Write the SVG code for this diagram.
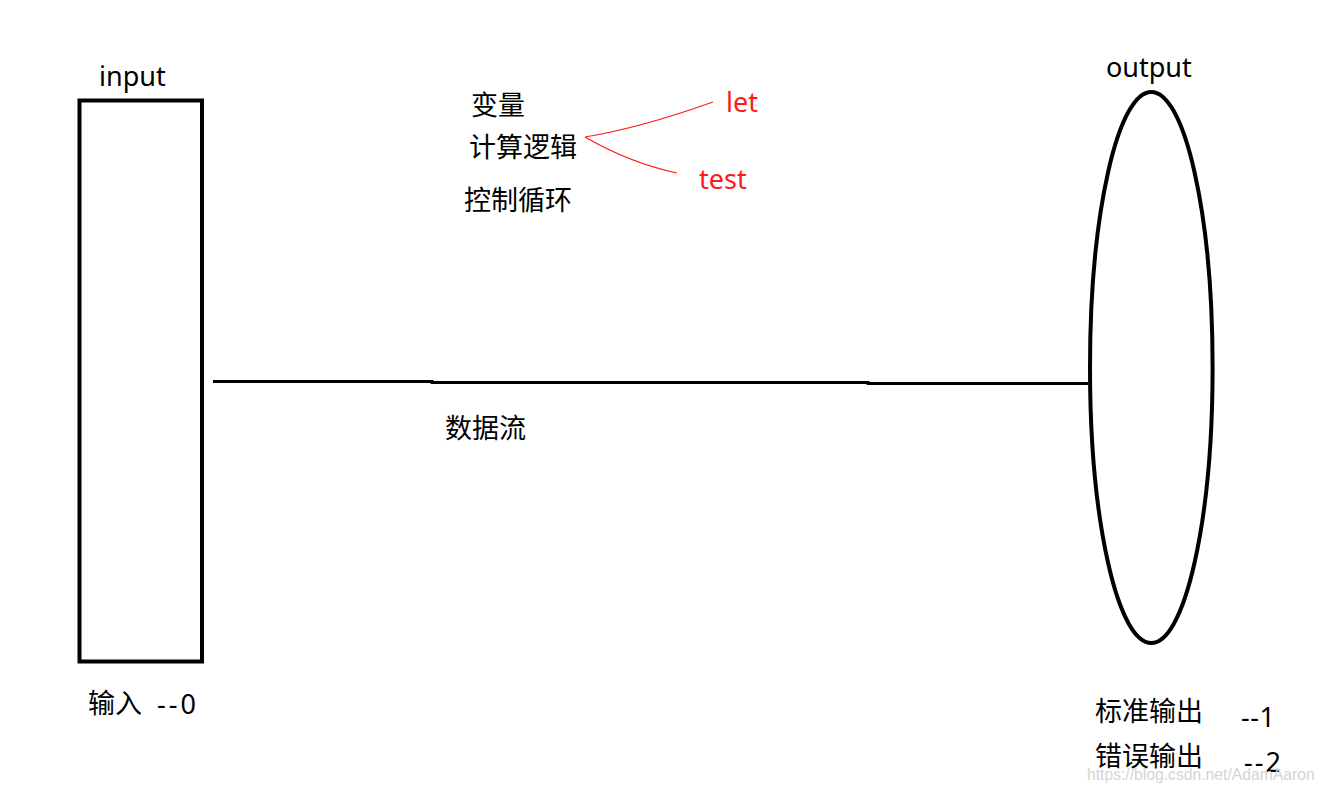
<svg xmlns="http://www.w3.org/2000/svg" width="1325" height="797" viewBox="0 0 1325 797">
  <style>
    .lat { font-family: "Noto Sans", "Open Sans", sans-serif; font-size: 27px; fill: #000; }
    .cjk { font-family: "Noto Sans", "Noto Sans CJK SC", sans-serif; font-size: 27px; fill: #000; }
    .red { fill: #ff1a1a; }
    .shape { fill: none; stroke: #000; stroke-width: 4; }
    .flow { fill: none; stroke: #000; stroke-width: 3; }
    .branch { fill: none; stroke: #ff1a1a; stroke-width: 1.2; }
    .wm { font-family: "Liberation Sans", Arial, sans-serif; font-size: 15.7px; fill: #d4d4d4; }
  </style>
  <rect x="0" y="0" width="1325" height="797" fill="#fff"/>

  <g id="connectors">
    <polyline class="flow" points="213,381.5 432,381.5 432,382.5 868,382.5 868,383.5 1088,383.5"/>
    <path class="branch" d="M585,137 Q640,128 713,102"/>
    <path class="branch" d="M585,137 Q630,163 677,173"/>
  </g>

  <g id="input">
    <rect class="shape" x="79.5" y="100.5" width="122.5" height="561"/>
    <text class="lat" x="99" y="86">input</text>
    <text class="cjk" x="88" y="713">输入</text>
    <text class="lat" x="157" y="714" textLength="39" lengthAdjust="spacing">--0</text>
  </g>

  <g id="output">
    <ellipse class="shape" cx="1151.3" cy="367.5" rx="61.3" ry="275.5"/>
    <text class="lat" x="1106" y="77">output</text>
    <text class="cjk" x="1095" y="721">标准输出</text>
    <text class="lat" x="1241" y="727" textLength="34" lengthAdjust="spacing">--1</text>
    <text class="cjk" x="1095" y="765.5">错误输出</text>
    <text class="lat" x="1244" y="772" textLength="37" lengthAdjust="spacing">--2</text>
  </g>

  <g id="program">
    <text class="cjk" x="471" y="115">变量</text>
    <text class="cjk" x="469" y="157">计算逻辑</text>
    <text class="cjk" x="464" y="210">控制循环</text>
  </g>

  <g id="let">
    <text class="lat red" x="726" y="112">let</text>
  </g>
  <g id="test">
    <text class="lat red" x="699" y="189">test</text>
  </g>

  <g id="dataflow">
    <text class="cjk" x="445" y="438">数据流</text>
  </g>

  <text class="wm" x="1087" y="780">https://blog.csdn.net/AdamAaron</text>
</svg>
